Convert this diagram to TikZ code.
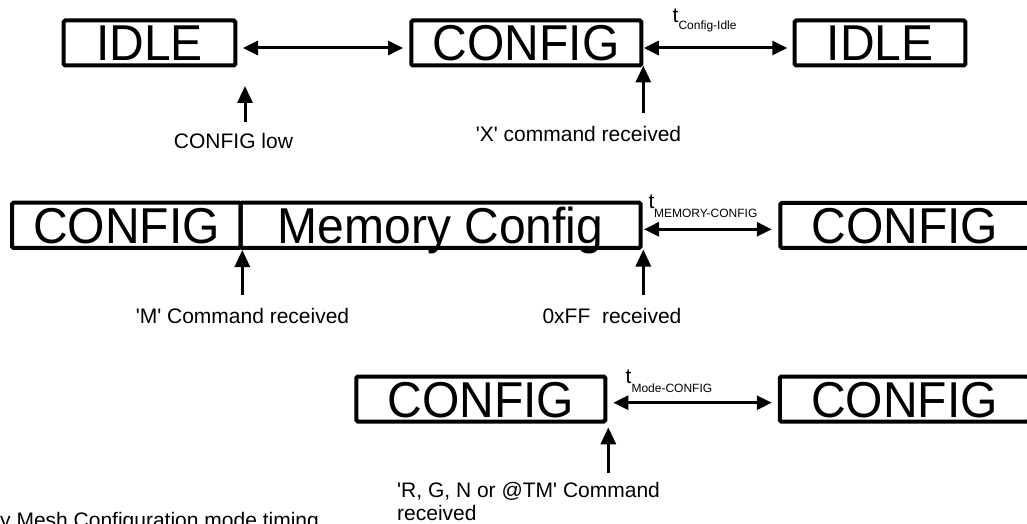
\documentclass[tikz,border=0pt]{standalone}
\usepackage{fontspec}
\usepackage{graphicx}
\setmainfont{Liberation Sans}
\usetikzlibrary{arrows.meta}
\newcommand\tsublabel[2]{{\fontsize{21}{21}\selectfont t}\raisebox{-#2}{\fontsize{12}{12}\selectfont #1}}
\newcommand\bigtxt[1]{\scalebox{1}[1.05]{#1}}
\begin{document}
\begin{tikzpicture}[x=1pt,y=-1pt,
  statebox/.style={draw,line width=4pt,rounded corners=1.5pt,inner sep=0pt,
    minimum height=45pt,text height=36pt,text depth=0pt,
    font=\fontsize{48}{50}\selectfont},
  lbl/.style={inner sep=0pt,font=\fontsize{21}{24}\selectfont},
  tlbl/.style={inner sep=0pt,anchor=base west},
  dbl/.style={line width=3pt,{Triangle[length=15pt,width=14pt]}-{Triangle[length=15pt,width=14pt]}},
  uparr/.style={line width=3pt,-{Triangle[length=17pt,width=15pt]}}]
\useasboundingbox (0,0) rectangle (1027,524);
\clip (0,0) rectangle (1027,524);

% Row 1
\node[statebox,minimum width=171.6pt] (idleA) at (149.5,43) {\bigtxt{IDLE}};
\node[statebox,minimum width=230pt] (cfgA) at (526.3,43) {\bigtxt{CONFIG}};
\node[statebox,minimum width=170.6pt] (idleB) at (880,43) {\bigtxt{IDLE}};
\draw[dbl] ([xshift=5.7pt,yshift=-5pt]idleA.east) -- ([xshift=-6.3pt,yshift=-5pt]cfgA.west);
\draw[dbl] ([xshift=0.5pt,yshift=-5pt]cfgA.east) -- ([xshift=-5.4pt,yshift=-5pt]idleB.west);
\node[tlbl] (t1) at (672.5,22.7) {\tsublabel{Config-Idle}{7.3pt}};

\coordinate (u1a) at (245,121.7);
\coordinate (u1b) at (245,86);
\draw[uparr] (u1a) -- (u1b);
\node[lbl,anchor=base] (lowlbl) at (233.5,148.5) {CONFIG low};

\coordinate (u2a) at (643.3,112.7);
\coordinate (u2b) at (643.3,65.5);
\draw[uparr] (u2a) -- (u2b);
\node[lbl,anchor=base] (xlbl) at (578.5,141.5) {\textquotesingle X\textquotesingle{} command received};

% Row 2
\node[statebox,minimum width=228.7pt,minimum height=45.3pt] (cfgB) at (126.35,225.3) {\bigtxt{CONFIG}};
\node[statebox,minimum width=400pt,minimum height=45.3pt] (memB) at (440.7,225.3) {\bigtxt{Memory Config}};
\node[statebox,minimum width=248.7pt] (cfgB2) at (904.7,225.3) {\bigtxt{CONFIG}};
\draw[dbl] ([xshift=1.3pt,yshift=-4pt]memB.east) -- ([xshift=-6.6pt,yshift=-4pt]cfgB2.west);
\node[tlbl] (t2) at (648.5,208.3) {\tsublabel{\kern-0.5pt MEMORY-CONFIG}{9pt}};

\coordinate (u3a) at (242.3,295);
\coordinate (u3b) at (242.3,250);
\draw[uparr] (u3a) -- (u3b);
\node[lbl,anchor=base] (mlbl) at (242.5,323) {\textquotesingle M\textquotesingle{} Command received};

\coordinate (u4a) at (643.3,295);
\coordinate (u4b) at (643.3,249.5);
\draw[uparr] (u4a) -- (u4b);
\node[lbl,anchor=base] (fflbl) at (612,323) {0xFF\ \ received};

% Row 3
\node[statebox,minimum width=249pt] (cfgC) at (480.8,399) {\bigtxt{CONFIG}};
\node[statebox,minimum width=249.3pt] (cfgC2) at (904.4,399) {\bigtxt{CONFIG}};
\draw[dbl] ([xshift=6pt,yshift=-3.7pt]cfgC.east) -- ([xshift=-6pt,yshift=-3.7pt]cfgC2.west);
\node[tlbl] (t3) at (625.5,383.3) {\tsublabel{Mode-CONFIG}{9pt}};

\coordinate (u5a) at (608.3,472.7);
\coordinate (u5b) at (608.3,427.3);
\draw[uparr] (u5a) -- (u5b);
\node[lbl,anchor=base west] (rlblA) at (397,497) {\textquotesingle R, G, N or @TM\textquotesingle{} Command};
\node[lbl,anchor=base west] (rlblB) at (397,520) {received};

% Caption (cut off in the reference)
\node[lbl,anchor=base west] (cap) at (0,527) {y Mesh Configuration mode timing};
\end{tikzpicture}
\end{document}
